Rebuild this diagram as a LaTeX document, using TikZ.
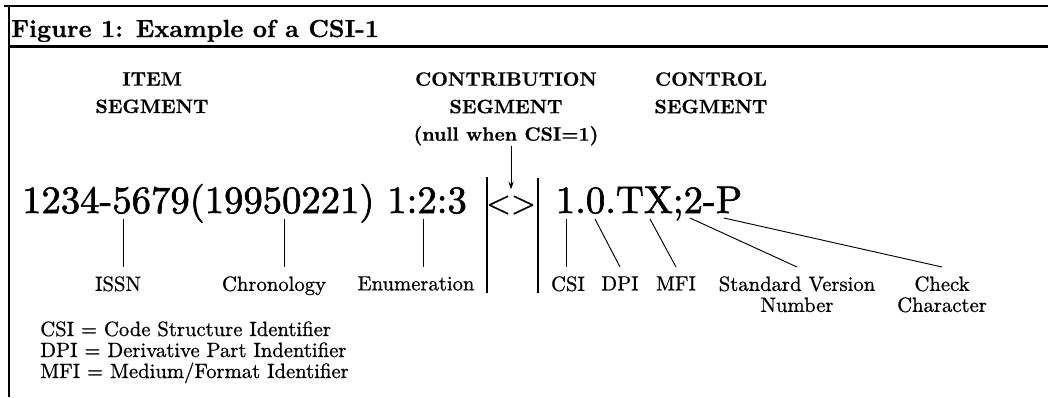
\documentclass[tikz,border=0pt]{standalone}
\usetikzlibrary{arrows.meta}
\DeclareFontFamily{TU}{lmten}{}
\DeclareFontShape{TU}{lmten}{m}{n}{<->\UnicodeFontFile{lmroman10-regular}{mapping=tex-text;embolden=0.8;}}{}
\DeclareFontShape{TU}{lmten}{sb}{n}{<->\UnicodeFontFile{lmroman10-regular}{mapping=tex-text;embolden=1.6;}}{}
\DeclareFontShape{TU}{lmten}{bx}{n}{<->\UnicodeFontFile{lmroman10-bold}{mapping=tex-text;embolden=0.6;}}{}
\DeclareFontShape{TU}{lmten}{b}{n}{<->ssub * lmten/bx/n}{}
\renewcommand{\rmdefault}{lmten}

\begin{document}
\begin{tikzpicture}[x=0.75pt,y=-0.75pt,
		rule/.style={line width=1.9pt},
		bar/.style={line width=1.5pt},
		tick/.style={line width=0.7pt},
		head/.style={font=\bfseries\fontsize{14.5}{20.6}\selectfont, align=center, inner sep=0pt, anchor=north},
		code/.style={font=\fontseries{sb}\fontsize{29}{34}\selectfont, inner sep=0pt, anchor=base},
		lbl/.style={font=\fontsize{15.5}{15.75}\selectfont, align=center, inner sep=0pt, outer ysep=7pt, anchor=north},
		defn/.style={font=\fontsize{15.5}{18}\selectfont, inner sep=0pt, anchor=base west}]
		\useasboundingbox (0,0) rectangle (1048,397);
		\draw[rule] (4,6) -- (1048,6);
		\draw[rule] (9,6) -- (9,397);
		\draw[rule] (9,46.5) -- (1048,46.5);
		\node[font=\bfseries\fontsize{18.5}{22}\selectfont, inner sep=0pt, anchor=base west] (title) at (11,37) {Figure 1: Example of a CSI-1};
		\node[head] (itemhead) at (152,72) {ITEM\\SEGMENT};
		\node[head] (contrib) at (506,72) {CONTRIBUTION\\SEGMENT\\(null when CSI=1)};
		\node[head] (ctrlhead) at (711,72) {CONTROL\\SEGMENT};
		\node[code] (item) at (244.5,213) {1234-5679(19950221) 1:2:3};
		\node[code, font=\fontseries{m}\fontsize{24}{30}\selectfont] (nullmark) at (511,213) {<>};
		\node[code] (ctrl) at (649,213) {1.0.TX;2-P};
		\draw[tick, -{Stealth[length=6pt,width=4pt]}, shorten >=4.5pt] (contrib.south -| nullmark) -- (nullmark.north);
		\draw[bar] (487,177) -- (487,293);
		\draw[bar] (538,178) -- (538,293);
		\node[lbl] (issn) at (118,267) {ISSN};
		\node[lbl] (chron) at (274,267) {Chronology};
		\node[lbl] (enum) at (416,267) {Enumeration};
		\node[lbl] (csi) at (568,267) {CSI};
		\node[lbl] (dpi) at (620,267) {DPI};
		\node[lbl] (mfi) at (676,267) {MFI};
		\node[lbl] (svn) at (797,267) {Standard Version\\Number};
		\node[lbl] (check) at (942,267) {Check\\Character};
		\coordinate (issnPt) at (123,219);
		\coordinate (chronPt) at (284,219);
		\coordinate (enumPt) at (423,219);
		\coordinate (csiPt) at (566,219);
		\coordinate (dpiPt) at (595,219);
		\coordinate (mfiPt) at (650,219);
		\coordinate (svnPt) at (690,218);
		\coordinate (checkPt) at (724,218);
		\draw[tick] (issnPt) -- (issnPt |- issn.north);
		\draw[tick] (chronPt) -- (chronPt |- chron.north);
		\draw[tick] (enumPt) -- (enumPt |- enum.north);
		\draw[tick] (csiPt) -- (csiPt |- csi.north);
		\draw[tick] (dpiPt) -- (dpi.north);
		\draw[tick] (mfiPt) -- (mfi.north);
		\draw[tick] (svnPt) -- (svn.north);
		\draw[tick] (checkPt) -- (check.north);
		\node[defn] (csidef) at (40,336) {CSI = Code Structure Identifier};
		\node[defn] (dpidef) at (40,357) {DPI = Derivative Part Indentifier};
		\node[defn] (mfidef) at (40,378) {MFI = Medium/Format Identifier};
	\end{tikzpicture}
\end{document}
